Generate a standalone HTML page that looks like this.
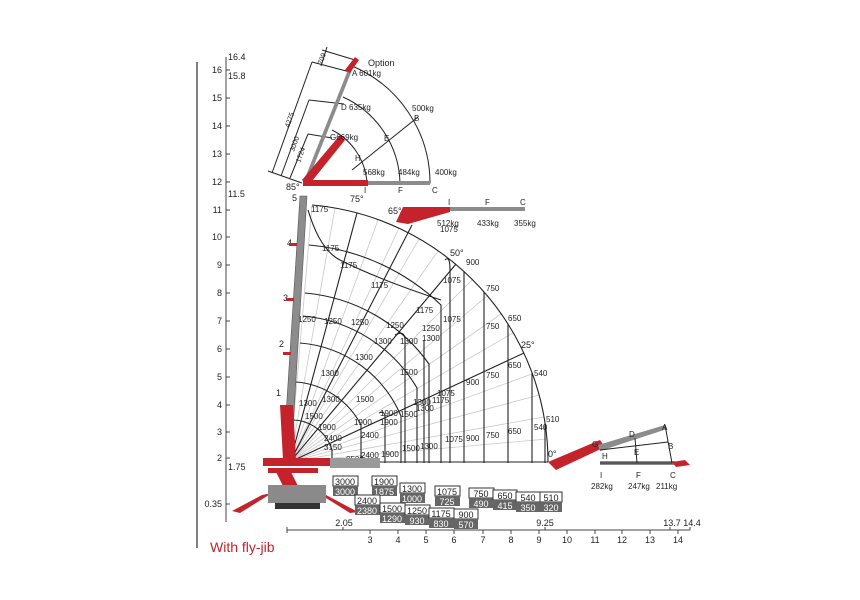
<!DOCTYPE html>
<html><head><meta charset="utf-8"><style>
body{margin:0;background:#fff}
svg{display:block;font-family:"Liberation Sans",sans-serif}
text{font-size:8px;fill:#222}
.t{font-size:9px}
</style></head><body>
<svg width="860" height="600" viewBox="0 0 860 600">
<line x1="197" y1="62" x2="197" y2="548" stroke="#555" stroke-width="1.5"/>
<line x1="226" y1="57" x2="226" y2="522" stroke="#444" stroke-width="1"/>
<g text-anchor="end">
<text x="222" y="73" class="t">16</text><text x="222" y="101" class="t">15</text><text x="222" y="129" class="t">14</text><text x="222" y="157" class="t">13</text><text x="222" y="185" class="t">12</text><text x="222" y="213" class="t">11</text><text x="222" y="240" class="t">10</text><text x="222" y="268" class="t">9</text><text x="222" y="296" class="t">8</text><text x="222" y="324" class="t">7</text><text x="222" y="352" class="t">6</text><text x="222" y="380" class="t">5</text><text x="222" y="408" class="t">4</text><text x="222" y="435" class="t">3</text><text x="222" y="461" class="t">2</text><text x="222" y="507" class="t">0.35</text>
</g>
<g stroke="#444"><line x1="226" y1="70" x2="230" y2="70"/><line x1="226" y1="98" x2="230" y2="98"/><line x1="226" y1="126" x2="230" y2="126"/><line x1="226" y1="154" x2="230" y2="154"/><line x1="226" y1="182" x2="230" y2="182"/><line x1="226" y1="210" x2="230" y2="210"/><line x1="226" y1="237" x2="230" y2="237"/><line x1="226" y1="265" x2="230" y2="265"/><line x1="226" y1="293" x2="230" y2="293"/><line x1="226" y1="321" x2="230" y2="321"/><line x1="226" y1="349" x2="230" y2="349"/><line x1="226" y1="377" x2="230" y2="377"/><line x1="226" y1="405" x2="230" y2="405"/><line x1="226" y1="432" x2="230" y2="432"/><line x1="226" y1="458" x2="230" y2="458"/><line x1="226" y1="504" x2="230" y2="504"/></g>
<text x="228" y="60" class="t">16.4</text><text x="228" y="79" class="t">15.8</text><text x="228" y="197" class="t">11.5</text><text x="228" y="470" class="t">1.75</text>
<line x1="287" y1="530" x2="690" y2="530" stroke="#444"/>
<g stroke="#444"><line x1="287" y1="527" x2="287" y2="533"/><line x1="343" y1="527" x2="343" y2="530"/><line x1="370" y1="530" x2="370" y2="534"/><line x1="398" y1="530" x2="398" y2="534"/><line x1="426" y1="530" x2="426" y2="534"/><line x1="454" y1="530" x2="454" y2="534"/><line x1="483" y1="530" x2="483" y2="534"/><line x1="511" y1="530" x2="511" y2="534"/><line x1="539" y1="530" x2="539" y2="534"/><line x1="545" y1="527" x2="545" y2="530"/><line x1="567" y1="530" x2="567" y2="534"/><line x1="595" y1="530" x2="595" y2="534"/><line x1="622" y1="530" x2="622" y2="534"/><line x1="650" y1="530" x2="650" y2="534"/><line x1="670" y1="527" x2="670" y2="530"/><line x1="678" y1="530" x2="678" y2="534"/><line x1="690" y1="527" x2="690" y2="530"/></g>
<g text-anchor="middle">
<text x="370" y="543" class="t">3</text><text x="398" y="543" class="t">4</text><text x="426" y="543" class="t">5</text><text x="454" y="543" class="t">6</text><text x="483" y="543" class="t">7</text><text x="511" y="543" class="t">8</text><text x="539" y="543" class="t">9</text><text x="567" y="543" class="t">10</text><text x="595" y="543" class="t">11</text><text x="622" y="543" class="t">12</text><text x="650" y="543" class="t">13</text><text x="678" y="543" class="t">14</text>
<text x="344" y="526" class="t">2.05</text><text x="545" y="526" class="t">9.25</text><text x="672" y="526" class="t">13.7</text><text x="692" y="526" class="t">14.4</text>
</g>
<text x="210" y="552" style="font-size:14px;fill:#c0262d">With fly-jib</text>

<g stroke="#c8c8c8" stroke-width="0.8">
<line x1="290" y1="462" x2="547" y2="439"/><line x1="290" y1="462" x2="544" y2="417"/><line x1="290" y1="462" x2="539" y2="395"/><line x1="290" y1="462" x2="532" y2="374"/><line x1="290" y1="462" x2="513" y2="333"/><line x1="290" y1="462" x2="501" y2="314"/><line x1="290" y1="462" x2="487" y2="296"/><line x1="290" y1="462" x2="472" y2="280"/><line x1="290" y1="462" x2="438" y2="251"/><line x1="290" y1="462" x2="419" y2="239"/><line x1="290" y1="462" x2="399" y2="228"/><line x1="290" y1="462" x2="378" y2="220"/><line x1="290" y1="462" x2="335" y2="208"/><line x1="290" y1="462" x2="312" y2="205"/>
</g>
<g stroke="#222" stroke-width="1.1" fill="none">
<line x1="290" y1="462" x2="548" y2="462"/>
<line x1="290" y1="462" x2="524" y2="353"/>
<line x1="290" y1="462" x2="456" y2="264"/>
<line x1="290" y1="462" x2="357" y2="213"/>
<line x1="290" y1="462" x2="412" y2="225"/>
<path d="M312 205 A258 258 0 0 1 548 462"/>
<path d="M309 245 A218 218 0 0 1 441 305 L441 463"/>
<path d="M305 293 A170 170 0 0 1 429 364 L429 463"/>
<path d="M303 316 A147 147 0 0 1 417 388 L417 463"/>
<path d="M300 343 A120 120 0 0 1 401 416 L401 463"/>
<path d="M296 382 A80 80 0 0 1 361 425 L361 463"/>
<path d="M293 420 A42 42 0 0 1 332 450 L332 463"/>
<line x1="464" y1="272" x2="464" y2="463"/><line x1="484" y1="292" x2="484" y2="463"/><line x1="508" y1="324" x2="508" y2="463"/><line x1="532" y1="373" x2="532" y2="463"/><line x1="545" y1="423" x2="545" y2="463"/>
<path d="M379 413 Q385 410 385 418 L385 463"/><path d="M395 335 Q405 330 405 340 L405 463"/><path d="M424 340 L424 463"/><path d="M445 260 Q450 255 450 270 L450 463"/>
<path d="M308 210 Q320 250 340 260 Q380 280 441 300"/>
</g>
<g>
<text x="311" y="212">1175</text><text x="322" y="251">1175</text><text x="340" y="268">1175</text><text x="371" y="288">1175</text>
<text x="298" y="322">1250</text><text x="324" y="324">1250</text><text x="351" y="325">1250</text><text x="386" y="328">1250</text><text x="422" y="331">1250</text>
<text x="416" y="313">1175</text><text x="440" y="232">1075</text><text x="443" y="283">1075</text><text x="443" y="322">1075</text>
<text x="466" y="265">900</text><text x="486" y="291">750</text><text x="508" y="321">650</text><text x="534" y="376">540</text><text x="546" y="422">510</text>
<text x="486" y="329">750</text><text x="508" y="368">650</text><text x="486" y="378">750</text><text x="466" y="385">900</text>
<text x="400" y="344">1300</text><text x="422" y="341">1300</text><text x="374" y="344">1300</text><text x="355" y="360">1300</text><text x="321" y="376">1300</text>
<text x="400" y="375">1500</text><text x="356" y="402">1500</text><text x="322" y="402">1300</text><text x="299" y="406">1300</text><text x="305" y="419">1500</text>
<text x="354" y="425">1900</text><text x="380" y="425">1900</text><text x="380" y="416">1900</text><text x="400" y="417">1500</text><text x="416" y="411">1300</text><text x="437" y="396">1075</text><text x="432" y="403">1175</text><text x="413" y="405">1300</text>
<text x="318" y="430">1900</text><text x="324" y="441">2400</text><text x="361" y="438">2400</text><text x="324" y="450">3150</text><text x="346" y="462">8500</text><text x="361" y="458">2400</text><text x="381" y="457">1900</text><text x="402" y="451">1500</text><text x="420" y="449">1300</text><text x="445" y="442">1075</text><text x="466" y="441">900</text><text x="486" y="438">750</text><text x="508" y="434">650</text><text x="534" y="430">540</text>
<text x="450" y="256" class="t">50°</text><text x="521" y="348" class="t">25°</text><text x="548" y="457" class="t">0°</text><text x="350" y="202" class="t">75°</text><text x="388" y="214" class="t">65°</text><text x="286" y="190" class="t">85°</text>
<text x="292" y="201" class="t">5</text><text x="287" y="246" class="t">4</text><text x="283" y="301" class="t">3</text><text x="279" y="347" class="t">2</text><text x="276" y="396" class="t">1</text>
</g>
<polygon points="283,462 291,462 307,196 300,196" fill="#8c8c8c" stroke="#555" stroke-width="0.6"/>
<rect x="283" y="352" width="8" height="3" fill="#c0262d"/><rect x="286" y="298" width="8" height="3" fill="#c0262d"/><rect x="289" y="243" width="8" height="3" fill="#c0262d"/>
<g fill="#c4232b">
<polygon points="280,405 293,405 296,460 283,460"/>
<rect x="263" y="458" width="70" height="8"/><rect x="268" y="468" width="50" height="5"/>
<polygon points="275,470 290,470 300,490 285,490"/>
<polygon points="262,495 272,493 240,513 232,511"/><polygon points="318,493 326,495 358,512 350,513"/>
<polygon points="330,458 380,458 380,468 330,468" fill="#9a9a9a"/>
</g>
<rect x="268" y="485" width="58" height="18" fill="#8a8a8a"/><rect x="275" y="503" width="45" height="6" fill="#333"/>
<g stroke="#222" fill="none" stroke-width="1">
<path d="M303 183 L430 183 A127 127 0 0 0 352 66"/>
<path d="M400 183 A97 97 0 0 0 343 97"/>
<path d="M367 183 A64 64 0 0 0 332 130"/>
<line x1="352" y1="170" x2="418" y2="117"/>
<line x1="272" y1="173" x2="312" y2="62"/><line x1="312" y1="62" x2="350" y2="72"/><line x1="268" y1="171" x2="302" y2="183"/>
<line x1="281" y1="176" x2="309" y2="100"/><line x1="309" y1="100" x2="344" y2="104"/>
<line x1="290" y1="178" x2="308" y2="134"/><line x1="308" y1="134" x2="332" y2="138"/>
<line x1="322" y1="50" x2="355" y2="60"/><line x1="327" y1="47" x2="321" y2="66"/>
</g>
<polygon points="303,183 307,183 352,70 348,70" fill="#8c8c8c"/>
<polygon points="302,180 340,135 345,140 308,186" fill="#c4232b"/><rect x="303" y="180" width="65" height="6" fill="#c4232b"/><rect x="368" y="181" width="62" height="4" fill="#8c8c8c"/>
<polygon points="345,70 355,57 359,60 350,73" fill="#c4232b"/>
<text x="368" y="66" class="t">Option</text><text x="352" y="76">A 601kg</text><text x="341" y="110">D 635kg</text><text x="412" y="111">500kg</text><text x="414" y="121">B</text>
<text x="330" y="140">G669kg</text><text x="384" y="141">E</text><text x="355" y="161">H</text>
<text x="363" y="175">568kg</text><text x="398" y="175">484kg</text><text x="435" y="175">400kg</text>
<text x="364" y="193">I</text><text x="398" y="193">F</text><text x="432" y="193">C</text>
<text x="289" y="128" transform="rotate(-70 289 128)" style="font-size:7px">4275</text>
<text x="294" y="152" transform="rotate(-70 294 152)" style="font-size:7px">3000</text>
<text x="300" y="163" transform="rotate(-70 300 163)" style="font-size:7px">1724</text>
<text x="322" y="65" transform="rotate(-70 322 65)" style="font-size:7px">709</text>
<polygon points="396,222 403,207 450,207 450,212 408,224" fill="#c4232b"/><rect x="450" y="207" width="75" height="4" fill="#8c8c8c"/>
<text x="448" y="205">I</text><text x="485" y="205">F</text><text x="520" y="205">C</text>
<text x="437" y="226">512kg</text><text x="477" y="226">433kg</text><text x="514" y="226">355kg</text>
<polygon points="548,462 600,440 605,447 556,470" fill="#c4232b"/>
<polygon points="598,445 665,425 667,429 600,451" fill="#8c8c8c"/>
<rect x="600" y="461" width="75" height="4" fill="#8c8c8c"/>
<g stroke="#222" fill="none"><path d="M665 425 L672 463 L600 463"/><line x1="600" y1="450" x2="668" y2="442"/><line x1="635" y1="438" x2="637" y2="463"/></g>
<polygon points="672,462 685,460 690,465 676,467" fill="#c4232b"/>
<text x="592" y="447">G</text><text x="629" y="437">D</text><text x="662" y="430">A</text><text x="668" y="449">B</text><text x="634" y="455">E</text><text x="602" y="459">H</text>
<text x="600" y="478">I</text><text x="636" y="478">F</text><text x="670" y="478">C</text>
<text x="591" y="489">282kg</text><text x="628" y="489">247kg</text><text x="656" y="489">211kg</text>
<g text-anchor="middle">
<g><rect x="333" y="476" width="25" height="10" fill="#fff" stroke="#333"/><rect x="333" y="486" width="25" height="10" fill="#666"/><text x="345" y="485" class="t">3000</text><text x="345" y="495" class="t" style="fill:#fff">3000</text></g>
<g><rect x="372" y="476" width="25" height="10" fill="#fff" stroke="#333"/><rect x="372" y="486" width="25" height="10" fill="#666"/><text x="384" y="485" class="t">1900</text><text x="384" y="495" class="t" style="fill:#fff">1875</text></g>
<g><rect x="355" y="495" width="25" height="10" fill="#fff" stroke="#333"/><rect x="355" y="505" width="25" height="10" fill="#666"/><text x="367" y="504" class="t">2400</text><text x="367" y="514" class="t" style="fill:#fff">2380</text></g>
<g><rect x="400" y="483" width="25" height="10" fill="#fff" stroke="#333"/><rect x="400" y="493" width="25" height="10" fill="#666"/><text x="412" y="492" class="t">1300</text><text x="412" y="502" class="t" style="fill:#fff">1000</text></g>
<g><rect x="380" y="503" width="25" height="10" fill="#fff" stroke="#333"/><rect x="380" y="513" width="25" height="10" fill="#666"/><text x="392" y="512" class="t">1500</text><text x="392" y="522" class="t" style="fill:#fff">1290</text></g>
<g><rect x="405" y="505" width="25" height="10" fill="#fff" stroke="#333"/><rect x="405" y="515" width="25" height="10" fill="#666"/><text x="417" y="514" class="t">1250</text><text x="417" y="524" class="t" style="fill:#fff">930</text></g>
<g><rect x="435" y="486" width="25" height="10" fill="#fff" stroke="#333"/><rect x="435" y="496" width="25" height="10" fill="#666"/><text x="447" y="495" class="t">1075</text><text x="447" y="505" class="t" style="fill:#fff">725</text></g>
<g><rect x="429" y="508" width="25" height="10" fill="#fff" stroke="#333"/><rect x="429" y="518" width="25" height="10" fill="#666"/><text x="441" y="517" class="t">1175</text><text x="441" y="527" class="t" style="fill:#fff">830</text></g>
<g><rect x="454" y="509" width="24" height="10" fill="#fff" stroke="#333"/><rect x="454" y="519" width="24" height="10" fill="#666"/><text x="466" y="518" class="t">900</text><text x="466" y="528" class="t" style="fill:#fff">570</text></g>
<g><rect x="469" y="488" width="25" height="10" fill="#fff" stroke="#333"/><rect x="469" y="498" width="25" height="10" fill="#666"/><text x="481" y="497" class="t">750</text><text x="481" y="507" class="t" style="fill:#fff">490</text></g>
<g><rect x="493" y="490" width="24" height="10" fill="#fff" stroke="#333"/><rect x="493" y="500" width="24" height="10" fill="#666"/><text x="505" y="499" class="t">650</text><text x="505" y="509" class="t" style="fill:#fff">415</text></g>
<g><rect x="516" y="492" width="24" height="10" fill="#fff" stroke="#333"/><rect x="516" y="502" width="24" height="10" fill="#666"/><text x="528" y="501" class="t">540</text><text x="528" y="511" class="t" style="fill:#fff">350</text></g>
<g><rect x="540" y="492" width="22" height="10" fill="#fff" stroke="#333"/><rect x="540" y="502" width="22" height="10" fill="#666"/><text x="551" y="501" class="t">510</text><text x="551" y="511" class="t" style="fill:#fff">320</text></g>
</g>
</svg>
</body></html>
